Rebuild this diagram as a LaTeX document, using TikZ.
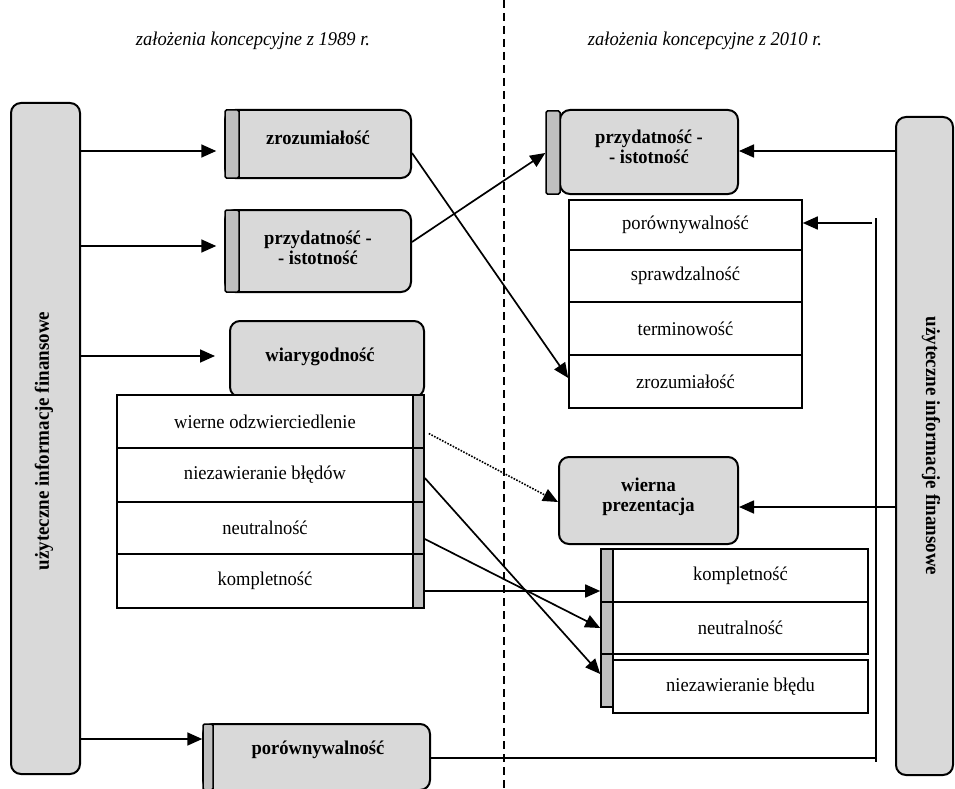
\documentclass[tikz,border=0pt]{standalone}
\usepackage{fontspec}
\setmainfont{Liberation Serif}[FakeStretch=0.95]
\usetikzlibrary{arrows.meta,calc}
\definecolor{boxgray}{HTML}{D9D9D9}
\definecolor{stripgray}{HTML}{BFBFBF}
\tikzset{
  gbox/.style={draw, line width=2pt, fill=boxgray, rounded corners=10pt, inner sep=0pt},
  gstrip/.style={draw, line width=1.5pt, fill=stripgray, rounded corners=1.5pt, inner sep=0pt},
  cellbox/.style={draw, line width=1.6pt, fill=white, inner sep=0pt},
  cellstrip/.style={draw, line width=1.6pt, fill=stripgray, inner sep=0pt},
  txt/.style={inner sep=0pt, align=center},
  btxt/.style={inner sep=0pt, align=center, font=\fontsize{19.5}{19.5}\selectfont\bfseries},
  vtxt/.style={inner sep=0pt, align=center, font=\fontsize{20}{20}\selectfont\bfseries},
  conn/.style={line width=1.7pt, -{Triangle[length=15pt,width=13pt]}},
  plainline/.style={line width=1.7pt},
}
\begin{document}
\begin{tikzpicture}[x=1pt,y=-1pt,font=\fontsize{19.5}{19.5}\selectfont]
\useasboundingbox (0,0) rectangle (955,789);

% dashed divider
\coordinate (dtop) at (504,0);
\coordinate (dbot) at (504,789);
\draw[line width=1.4pt, dash pattern=on 8pt off 5pt] (dtop) -- (dbot);

% titles
\node[txt, font=\fontsize{19.5}{19.5}\selectfont\itshape] (t1) at (253,41) {założenia koncepcyjne z 1989 r.};
\node[txt, font=\fontsize{19.5}{19.5}\selectfont\itshape] (t2) at (705,41) {założenia koncepcyjne z 2010 r.};

% big side boxes
\node[gbox, minimum width=69pt, minimum height=671pt] (L) at (45.5,438.5) {};
\node[vtxt, rotate=90] (Lt) at (44,441) {użyteczne informacje finansowe};
\node[gbox, minimum width=57pt, minimum height=658pt] (R) at (924.5,446) {};
\node[vtxt, rotate=-90] (Rt) at (931,446) {użyteczne informacje finansowe};

% left: zrozumiałość
\node[gbox, minimum width=186pt, minimum height=68pt] (Z) at (318,144) {};
\node[gstrip, minimum width=14pt, minimum height=68pt] (Zs) at (232,144) {};
\node[btxt] (Zt) at (318,138) {zrozumiałość};

% left: przydatność
\node[gbox, minimum width=186pt, minimum height=82pt] (P1) at (318,251) {};
\node[gstrip, minimum width=14pt, minimum height=82pt] (P1s) at (232,251) {};
\node[btxt] (P1t) at (318,248) {przydatność -\\- istotność};

% left: wiarygodność
\node[gbox, minimum width=194pt, minimum height=76pt] (W) at (327,359) {};
\node[btxt] (Wt) at (320,357) {wiarygodność};

% left table
\node[cellbox, minimum width=296pt, minimum height=53pt] (c1) at (265,421.5) {wierne odzwierciedlenie};
\node[cellbox, minimum width=296pt, minimum height=54pt] (c2) at (265,475) {niezawieranie błędów};
\node[cellbox, minimum width=296pt, minimum height=52pt] (c3) at (265,528) {neutralność};
\node[cellbox, minimum width=296pt, minimum height=54pt] (c4) at (265,581) {kompletność};
\node[cellstrip, minimum width=11pt, minimum height=53pt] (s1) at (418.5,421.5) {};
\node[cellstrip, minimum width=11pt, minimum height=54pt] (s2) at (418.5,475) {};
\node[cellstrip, minimum width=11pt, minimum height=52pt] (s3) at (418.5,528) {};
\node[cellstrip, minimum width=11pt, minimum height=54pt] (s4) at (418.5,581) {};

% left bottom: porównywalność
\node[gbox, minimum width=227pt, minimum height=66pt] (Pb) at (316.5,757) {};
\node[gstrip, minimum width=10pt, minimum height=66pt] (Pbs) at (208,757) {};
\node[btxt] (Pbt) at (318,750) {porównywalność};

% right: przydatność
\node[gbox, minimum width=178pt, minimum height=84pt] (P2) at (649,152) {};
\node[gstrip, minimum width=14pt, minimum height=83pt] (P2s) at (553,152.5) {};
\node[btxt] (P2t) at (649,147) {przydatność -\\- istotność};

% right table
\node[cellbox, minimum width=233pt, minimum height=50pt] (r1) at (685.5,225) {porównywalność};
\node[cellbox, minimum width=233pt, minimum height=52pt] (r2) at (685.5,276) {sprawdzalność};
\node[cellbox, minimum width=233pt, minimum height=53pt] (r3) at (685.5,328.5) {terminowość};
\node[cellbox, minimum width=233pt, minimum height=53pt] (r4) at (685.5,381.5) {zrozumiałość};

% right: wierna prezentacja
\node[gbox, minimum width=179pt, minimum height=87pt] (W2) at (648.5,500.5) {};
\node[btxt] (W2t) at (648.5,497) {wierna\\prezentacja};

% right bottom table
\node[cellbox, minimum width=255pt, minimum height=53pt] (b1) at (740.5,575.5) {kompletność};
\node[cellbox, minimum width=255pt, minimum height=52pt] (b2) at (740.5,628) {neutralność};
\node[cellbox, minimum width=255pt, minimum height=53pt] (b3) at (740.5,686.5) {niezawieranie błędu};
\node[cellstrip, minimum width=12pt, minimum height=53pt] (bs1) at (607,575.5) {};
\node[cellstrip, minimum width=12pt, minimum height=52pt] (bs2) at (607,628) {};
\node[cellstrip, minimum width=12pt, minimum height=53pt] (bs3) at (607,680.5) {};

% helper coordinates
\coordinate (vtop) at (876,218);
\coordinate (vbot) at (876,762);
\coordinate (hstart) at (872,223);

% connectors from left big box
\draw[conn, shorten >=8pt] (L.east |- 0,151) -- (Zs.west |- 0,151);
\draw[conn, shorten >=8pt] (L.east |- 0,246) -- (P1s.west |- 0,246);
\draw[conn, shorten >=14pt] (L.east |- 0,356) -- (W.west |- 0,356);
\draw[conn] (L.east |- 0,739) -- (Pbs.west |- 0,739);

% connectors from right big box
\draw[conn] (R.west |- 0,151) -- (P2.east |- 0,151);
\draw[conn] (R.west |- 0,507) -- (W2.east |- 0,507);
\draw[plainline] (vtop) -- (vbot);
\draw[plainline] (Pb.east |- 0,758) -- (vbot |- 0,758);
\draw[conn] (hstart) -- (r1.east |- hstart);

% crossing connectors
\draw[conn] (Z.east |- 0,153) -- (r4.west |- 0,378);
\draw[conn] (P1.east |- 0,242) -- (P2s.west |- 0,153);
\draw[line width=1.6pt, dash pattern=on 1.6pt off 1.4pt, -{Triangle[length=15pt,width=13pt]}] ($(s1.east)+(4,12)$) -- (W2.west |- 0,502);
\draw[conn] (s4.east |- 0,591) -- (bs1.west |- 0,591);
\draw[conn] (s3.east |- 0,539) -- (bs2.west |- 0,628);
\draw[conn] (s2.east |- 0,478) -- (bs3.west |- 0,674);
\end{tikzpicture}
\end{document}
